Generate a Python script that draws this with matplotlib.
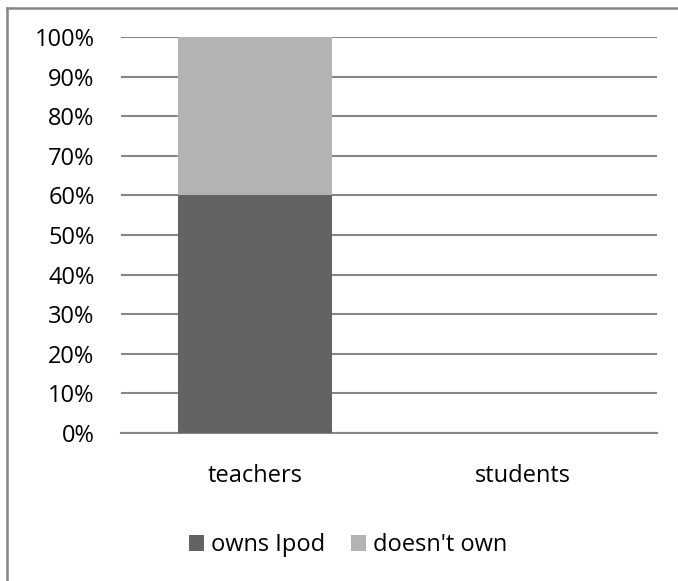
import matplotlib.pyplot as plt
from matplotlib.lines import Line2D

categories = ['teachers', 'students']
owns_ipod = [60, 0]
doesnt_own = [40, 0]
ticks = [0, 10, 20, 30, 40, 50, 60, 70, 80, 90, 100]

plt.rcParams['font.family'] = ['Open Sans', 'DejaVu Sans']
fs = 17

fig = plt.figure(figsize=(6.78, 5.81), dpi=100)
ax = fig.add_axes([121/678, 1 - 433/581, (657 - 121)/678, (433 - 37)/581])

x = range(len(categories))
ax.bar(x, owns_ipod, width=0.575, color='#636363', label='owns Ipod', zorder=3)
ax.bar(x, doesnt_own, width=0.575, bottom=owns_ipod, color='#b3b3b3', label="doesn't own", zorder=3)

ax.set_xlim(-0.5, 1.5)
ax.set_ylim(0, 100)
ax.set_yticks(ticks)
ax.set_yticklabels([f'{t}%' for t in ticks], fontsize=fs)
ax.set_xticks(list(x))
ax.set_xticklabels(categories, fontsize=fs)
ax.tick_params(axis='y', length=0, pad=19)
ax.tick_params(axis='x', length=0, pad=22.5)
ax.yaxis.grid(True, color='#868686', linewidth=1.5, zorder=0)
for s in ['top', 'right', 'left']:
    ax.spines[s].set_visible(False)
ax.spines['bottom'].set_color('#868686')
ax.spines['bottom'].set_linewidth(1.5)

leg = fig.legend(loc='center', bbox_to_anchor=(348/678, 1 - 545/581), ncol=2, frameon=False,
                 fontsize=fs, handlelength=0.64, handleheight=0.64, handletextpad=0.3,
                 columnspacing=1.1, borderpad=0)

# chart border (only top and left edges are inside the picture)
x0, y1 = 7/678, 1 - 8/581
fig.add_artist(Line2D([x0, x0], [0, y1], transform=fig.transFigure, color='#868686', linewidth=1.8))
fig.add_artist(Line2D([x0, 1], [y1, y1], transform=fig.transFigure, color='#868686', linewidth=1.8))

fig.savefig('out.png', dpi=100)
